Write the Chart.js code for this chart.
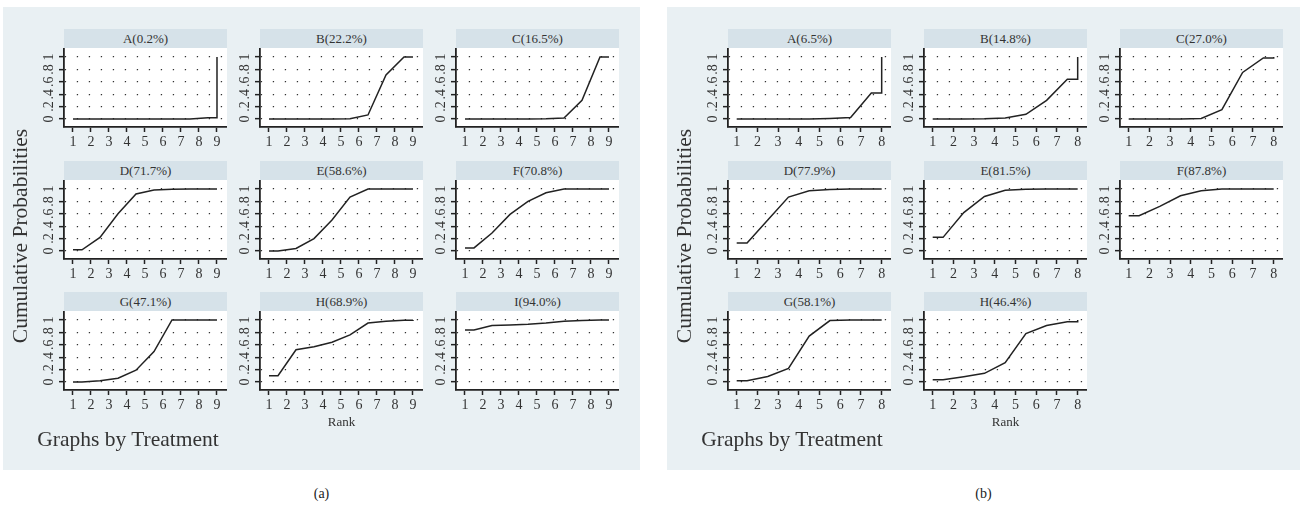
<!DOCTYPE html>
<html>
<head>
<meta charset="utf-8">
<script src="https://cdn.jsdelivr.net/npm/chart.js@4.4.1/dist/chart.umd.min.js"></script>
<style>
  body { margin: 0; background: #fff; }
  #wrap { position: relative; width: 1304px; height: 513px; overflow: hidden; font-family: "Liberation Serif", "DejaVu Serif", serif; color: #333; }
  .panel { position: absolute; background: #e9f0f3; }
  .strip { position: absolute; height: 19px; line-height: 20px; background: #d6e2e9; text-align: center; font-size: 13px; color: #333; }
  .sub { position: absolute; }
  .txt { position: absolute; white-space: nowrap; }
</style>
</head>
<body>
<div id="wrap"></div>
<script>
// rangordner
var ranks9 = [1, 2, 3, 4, 5, 6, 7, 8, 9];
var ranks8 = [1, 2, 3, 4, 5, 6, 7, 8];
var yTicks = [0, 0.2, 0.4, 0.6, 0.8, 1];
var yTickLabels = ['0', '.2', '.4', '.6', '.8', '1'];

// (a) kumulative Wahrscheinlichkeiten je Rang
var namesA = ['A(0.2%)', 'B(22.2%)', 'C(16.5%)', 'D(71.7%)', 'E(58.6%)', 'F(70.8%)', 'G(47.1%)', 'H(68.9%)', 'I(94.0%)'];
var a_A = [0, 0, 0, 0, 0, 0, 0.002, 0.02, 1];
var a_B = [0, 0, 0, 0, 0.003, 0.065, 0.71, 1, 1];
var a_C = [0, 0, 0, 0, 0.003, 0.015, 0.30, 1, 1];
var a_D = [0.02, 0.22, 0.60, 0.92, 0.985, 0.995, 1, 1, 1];
var a_E = [0, 0.04, 0.20, 0.50, 0.87, 1, 1, 1, 1];
var a_F = [0.05, 0.29, 0.59, 0.80, 0.94, 1, 1, 1, 1];
var a_G = [0, 0.02, 0.06, 0.19, 0.49, 1, 1, 1, 1];
var a_H = [0.10, 0.52, 0.57, 0.64, 0.76, 0.95, 0.98, 0.995, 1];
var a_I = [0.84, 0.91, 0.92, 0.93, 0.95, 0.98, 0.99, 1, 1];

// (b)
var namesB = ['A(6.5%)', 'B(14.8%)', 'C(27.0%)', 'D(77.9%)', 'E(81.5%)', 'F(87.8%)', 'G(58.1%)', 'H(46.4%)'];
var b_A = [0, 0, 0, 0, 0.01, 0.025, 0.42, 1];
var b_B = [0, 0, 0.003, 0.015, 0.075, 0.30, 0.64, 1];
var b_C = [0, 0, 0, 0.008, 0.15, 0.75, 0.985, 1];
var b_D = [0.13, 0.50, 0.87, 0.97, 0.99, 1, 1, 1];
var b_E = [0.22, 0.62, 0.88, 0.98, 0.995, 1, 1, 1];
var b_F = [0.57, 0.72, 0.89, 0.97, 1, 1, 1, 1];
var b_G = [0.02, 0.09, 0.22, 0.74, 0.99, 1, 1, 1];
var b_H = [0.035, 0.085, 0.14, 0.31, 0.78, 0.91, 0.97, 1];

var wrap = document.getElementById('wrap');

function addDiv(cls, css, html) {
	var d = document.createElement('div');
	d.className = cls;
	for (var k in css) d.style[k] = css[k];
	if (html) d.innerHTML = html;
	wrap.appendChild(d);
	return d;
}

// Stufenlinie wie in Stata: Punkte bei 1, k+0.5 und n
function stepPoints(c) {
	var n = c.length, pts = [{x: 1, y: c[0]}];
	for (var k = 1; k < n; k++) pts.push({x: k + 0.5, y: c[k - 1]});
	pts.push({x: n, y: c[n - 2]});
	pts.push({x: n, y: c[n - 1]});
	return pts;
}

var whiteArea = {
	id: 'whiteArea',
	beforeDraw: function(chart) {
		var a = chart.chartArea, ctx = chart.ctx;
		ctx.save();
		ctx.fillStyle = '#fff';
		ctx.fillRect(a.left, a.top, a.right - a.left, a.bottom - a.top);
		ctx.restore();
	}
};

var yMin = -0.129, yMax = 1.145;
var PW = 163, PH = 79, LW = 40, BH = 30;

function subplot(left, top, title, values, ranks, xMin, xMax) {
	addDiv('strip', {left: left + 'px', top: top + 'px', width: PW + 'px'}, title);
	var cv = document.createElement('canvas');
	cv.width = PW + LW; cv.height = PH + BH;
	cv.className = 'sub';
	cv.style.left = (left - LW) + 'px';
	cv.style.top = (top + 19) + 'px';
	wrap.appendChild(cv);
	var tickFont = {family: '"Liberation Serif", serif', size: 14};
	new Chart(cv, {
		type: 'scatter',
		data: {
			datasets: [{
				data: stepPoints(values),
				showLine: true,
				borderColor: '#222',
				borderWidth: 1.5,
				pointRadius: 0,
				tension: 0
			}]
		},
		options: {
			responsive: false,
			animation: false,
			devicePixelRatio: 1,
			layout: {padding: 0},
			plugins: {legend: {display: false}, tooltip: {enabled: false}},
			scales: {
				x: {
					type: 'linear', min: xMin, max: xMax,
					afterBuildTicks: function(s) { s.ticks = ranks.map(function(v) { return {value: v}; }); },
					afterFit: function(s) { s.height = BH; s.paddingLeft = 0; s.paddingRight = 0; },
					ticks: {color: '#333', font: tickFont, padding: 2, maxRotation: 0, minRotation: 0},
					grid: {drawOnChartArea: false, drawTicks: true, tickLength: 5, tickColor: '#222', tickWidth: 1.5},
					border: {display: true, color: '#222', width: 1.8}
				},
				y: {
					type: 'linear', min: yMin, max: yMax,
					afterBuildTicks: function(s) { s.ticks = yTicks.map(function(v) { return {value: v}; }); },
					afterFit: function(s) { s.width = LW; s.paddingTop = 0; s.paddingBottom = 0; },
					ticks: {
						color: '#333', font: tickFont, padding: 4,
						minRotation: 90, maxRotation: 90, crossAlign: 'center',
						callback: function(v) { return yTickLabels[yTicks.indexOf(v)]; }
					},
					grid: {color: '#333', lineWidth: 1.3, drawTicks: true, tickLength: 5, tickColor: '#222', tickWidth: 1.5},
					border: {display: true, color: '#222', width: 1.8, dash: [1.3, 10.7]}
				}
			}
		},
		plugins: [whiteArea]
	});
}

function panel(bgLeft, bgWidth, cols, names, series, ranks, xMin, xMax, label) {
	addDiv('panel', {left: bgLeft + 'px', top: '7px', width: bgWidth + 'px', height: '463px'});
	for (var i = 0; i < series.length; i++) {
		var r = Math.floor(i / 3), c = i % 3;
		subplot(cols[c], Math.round(29 + r * 131.5), names[i], series[i], ranks, xMin, xMax);
	}
	// Achsentitel
	addDiv('txt', {left: (bgLeft + 17 - 150) + 'px', top: '225px', width: '300px', textAlign: 'center',
		fontSize: '21.5px', lineHeight: '22px', transform: 'rotate(-90deg)', color: '#333'}, 'Cumulative Probabilities');
	addDiv('txt', {left: (cols[1]) + 'px', top: '414px', width: PW + 'px', textAlign: 'center',
		fontSize: '13px', color: '#333'}, 'Rank');
	addDiv('txt', {left: (cols[0] + 64 - 110) + 'px', top: '427px', width: '220px', textAlign: 'center',
		fontSize: '21.5px', color: '#333'}, 'Graphs by Treatment');
	addDiv('txt', {left: (bgLeft + bgWidth / 2 - 50) + 'px', top: '486px', width: '100px', textAlign: 'center',
		fontSize: '14px', color: '#222'}, label);
}

panel(3, 637, [64, 260, 456], namesA, [a_A, a_B, a_C, a_D, a_E, a_F, a_G, a_H, a_I], ranks9, 0.5, 9.556, '(a)');
panel(667, 633, [728, 924, 1120], namesB, [b_A, b_B, b_C, b_D, b_E, b_F, b_G, b_H], ranks8, 0.58, 8.45, '(b)');
</script>
</body>
</html>
